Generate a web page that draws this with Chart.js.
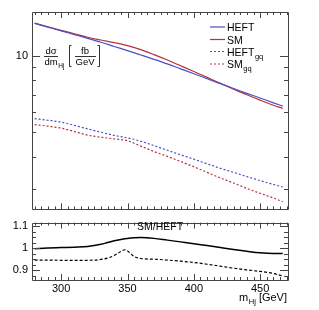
<!DOCTYPE html>
<html>
<head>
<meta charset="utf-8">
<script src="https://cdn.jsdelivr.net/npm/chart.js@4"></script>
<style>
  html, body { margin: 0; padding: 0; background: #fff; }
  #wrap { position: relative; width: 319px; height: 310px; }
  #top { position: absolute; left: 0; top: 0; width: 319px; height: 220px; }
  #bot { position: absolute; left: 0; top: 212px; width: 319px; height: 98px; }
</style>
</head>
<body>
<div id="wrap">
  <div id="top"><canvas id="mainChart"></canvas></div>
  <div id="bot"><canvas id="ratioChart"></canvas></div>
</div>
<script>
// m_Hj [GeV] sample points
const mass = [280, 290, 300, 310, 320, 330, 340, 350, 360, 370, 380, 390, 400, 410, 420, 430, 440, 450, 460, 467];
const heft   = [13.35, 12.91, 12.49, 12.07, 11.67, 11.27, 10.85, 10.45, 10.05, 9.66, 9.27, 8.87, 8.49, 8.11, 7.76, 7.43, 7.11, 6.82, 6.53, 6.34];
const sm     = [13.38, 12.95, 12.55, 12.17, 11.79, 11.50, 11.23, 10.93, 10.55, 10.08, 9.60, 9.12, 8.66, 8.21, 7.79, 7.39, 7.02, 6.69, 6.39, 6.21];
const heftGq = [5.66, 5.58, 5.49, 5.33, 5.16, 5.01, 4.87, 4.76, 4.62, 4.44, 4.26, 4.09, 3.93, 3.77, 3.62, 3.49, 3.36, 3.24, 3.13, 3.06];
const smGq   = [5.37, 5.29, 5.20, 5.04, 4.88, 4.79, 4.72, 4.64, 4.42, 4.21, 4.03, 3.85, 3.67, 3.49, 3.32, 3.17, 3.02, 2.89, 2.77, 2.68];

// ratio panel SM/HEFT
const ratioMass  = [280, 290, 300, 310, 320, 330, 335, 340, 345, 348, 351, 355, 360, 370, 380, 390, 400, 410, 420, 430, 440, 450, 460, 467];
const ratioTotal = [0.998, 1.001, 1.003, 1.005, 1.008, 1.018, 1.026, 1.034, 1.040, 1.043, 1.046, 1.048, 1.049, 1.045, 1.037, 1.029, 1.021, 1.012, 1.003, 0.994, 0.986, 0.979, 0.976, 0.976];
const ratioGq    = [0.946, 0.946, 0.945, 0.945, 0.945, 0.949, 0.955, 0.967, 0.985, 0.993, 0.983, 0.962, 0.953, 0.950, 0.946, 0.941, 0.935, 0.927, 0.918, 0.909, 0.901, 0.894, 0.885, 0.873];

const xTickValues = [300, 350, 400, 450];
const yTickValues = [10];
const ratioTickValues = [0.9, 1, 1.1];
const ratioTickLabels = ['0.9', '1', '1.1'];

const BLUE = '#4a4fc2';
const RED = '#b8303c';
const FONT = '"Liberation Sans", Arial, sans-serif';

const pts = (xs, ys) => xs.map((x, i) => ({ x: x, y: ys[i] }));

function line(label, data, color, dash, width) {
  return {
    label: label,
    data: data,
    borderColor: color,
    borderWidth: width,
    borderDash: dash,
    pointRadius: 0,
    fill: false,
    cubicInterpolationMode: 'monotone'
  };
}

// ROOT style frame with inward ticks
function drawFrame(chart, yMinor, yMajor) {
  const ctx = chart.ctx;
  const a = chart.chartArea;
  const xs = chart.scales.x, ys = chart.scales.y;
  ctx.save();
  ctx.strokeStyle = '#444';
  ctx.lineWidth = 1;
  ctx.beginPath();
  ctx.rect(Math.round(a.left) + 0.5, Math.round(a.top) + 0.5, Math.round(a.right - a.left), Math.round(a.bottom - a.top));
  ctx.stroke();
  ctx.beginPath();
  for (let v = 280; v <= 470; v += 5) {
    const px = Math.round(xs.getPixelForValue(v)) + 0.5;
    const len = v % 50 === 0 ? 6 : 3;
    ctx.moveTo(px, a.top); ctx.lineTo(px, a.top + len);
    ctx.moveTo(px, a.bottom); ctx.lineTo(px, a.bottom - len);
  }
  const yt = (vals, len) => vals.forEach(v => {
    const py = Math.round(ys.getPixelForValue(v)) + 0.5;
    ctx.moveTo(a.left, py); ctx.lineTo(a.left + len, py);
    ctx.moveTo(a.right, py); ctx.lineTo(a.right - len, py);
  });
  yt(yMinor, 4);
  yt(yMajor, 8);
  ctx.stroke();
  ctx.restore();
}

function textSub(ctx, x, y, main, sub, size, subSize) {
  ctx.font = size + 'px ' + FONT;
  ctx.fillText(main, x, y);
  const w = ctx.measureText(main).width;
  ctx.font = subSize + 'px ' + FONT;
  ctx.fillText(sub, x + w + 0.5, y + 3);
  return w + 0.5 + ctx.measureText(sub).width;
}

const mainDecor = {
  id: 'mainDecor',
  afterDraw(chart) {
    drawFrame(chart, [3, 4, 5, 6, 7, 8, 9], [10]);
    const ctx = chart.ctx;
    ctx.save();
    ctx.fillStyle = '#000';
    ctx.textBaseline = 'alphabetic';
    // legend
    const rows = [27, 39.5, 51.5, 64];
    chart.data.datasets.forEach((ds, i) => {
      const y = rows[i];
      ctx.strokeStyle = ds.borderColor;
      ctx.lineWidth = ds.borderWidth;
      ctx.setLineDash(ds.borderDash || []);
      ctx.beginPath();
      ctx.moveTo(210, y); ctx.lineTo(225, y);
      ctx.stroke();
      ctx.setLineDash([]);
      ctx.textAlign = 'left';
      if (ds.label.indexOf('_') > 0) {
        const parts = ds.label.split('_');
        textSub(ctx, 227, y + 4, parts[0], parts[1], 10.5, 7.5);
      } else {
        ctx.font = '10.5px ' + FONT;
        ctx.fillText(ds.label, 227, y + 4);
      }
    });
    // y title: d sigma / dm_Hj [fb / GeV]
    ctx.textAlign = 'center';
    ctx.font = '9.5px ' + FONT;
    ctx.fillText('d\u03c3', 51, 54);
    ctx.textAlign = 'left';
    textSub(ctx, 44.5, 64.5, 'dm', 'Hj', 9.5, 6.5);
    ctx.textAlign = 'center';
    ctx.font = '9.5px ' + FONT;
    ctx.fillText('fb', 85, 53.5);
    ctx.fillText('GeV', 85, 64.5);
    ctx.strokeStyle = '#000';
    ctx.lineWidth = 0.8;
    ctx.beginPath();
    ctx.moveTo(44, 56.5); ctx.lineTo(58, 56.5);
    ctx.moveTo(75, 56.5); ctx.lineTo(96, 56.5);
    // brackets
    ctx.moveTo(71.5, 45.5); ctx.lineTo(69.5, 45.5); ctx.lineTo(69.5, 66.5); ctx.lineTo(71.5, 66.5);
    ctx.moveTo(97.5, 45.5); ctx.lineTo(99.5, 45.5); ctx.lineTo(99.5, 66.5); ctx.lineTo(97.5, 66.5);
    ctx.stroke();
    ctx.restore();
  }
};

const ratioDecor = {
  id: 'ratioDecor',
  afterDraw(chart) {
    const minor = [];
    for (let v = 0.875; v <= 1.11; v += 0.025) minor.push(v);
    drawFrame(chart, minor, ratioTickValues);
    const ctx = chart.ctx;
    ctx.save();
    ctx.fillStyle = '#000';
    ctx.textBaseline = 'alphabetic';
    ctx.textAlign = 'center';
    ctx.font = '10.5px ' + FONT;
    ctx.fillText('SM/HEFT', 160, 18);
    // x title
    ctx.textAlign = 'left';
    ctx.font = '11px ' + FONT;
    const wm = ctx.measureText('m').width;
    const wr = ctx.measureText(' [GeV]').width;
    ctx.font = '7.5px ' + FONT;
    const ws = ctx.measureText('Hj').width;
    const x0 = 287 - (wm + 0.5 + ws + wr);
    const w = textSub(ctx, x0, 89, 'm', 'Hj', 11, 7.5);
    ctx.font = '11px ' + FONT;
    ctx.fillText(' [GeV]', x0 + w, 89);
    ctx.restore();
  }
};

new Chart(document.getElementById('mainChart'), {
  type: 'line',
  data: {
    datasets: [
      line('HEFT', pts(mass, heft), BLUE, [], 1.2),
      line('SM', pts(mass, sm), RED, [], 1.2),
      line('HEFT_gq', pts(mass, heftGq), BLUE, [2, 2], 1.2),
      line('SM_gq', pts(mass, smGq), RED, [2, 2], 1.2)
    ]
  },
  options: {
    responsive: true,
    maintainAspectRatio: false,
    animation: false,
    layout: { padding: { top: 12, right: 31, bottom: 3, left: 0 } },
    plugins: { legend: { display: false }, tooltip: { enabled: false } },
    scales: {
      x: { type: 'linear', min: 278, max: 471, display: false },
      y: {
        type: 'logarithmic',
        min: 2.5,
        max: 14.8,
        afterFit: s => { s.width = 32; },
        afterBuildTicks: s => { s.ticks = yTickValues.map(v => ({ value: v })); },
        grid: { display: false, drawTicks: false },
        border: { display: false },
        ticks: { color: '#000', padding: 4, font: { family: FONT, size: 11 }, callback: v => String(v) }
      }
    }
  },
  plugins: [mainDecor]
});

new Chart(document.getElementById('ratioChart'), {
  type: 'line',
  data: {
    datasets: [
      line('SM/HEFT', pts(ratioMass, ratioTotal), '#000', [], 1.5),
      line('SM/HEFT gq', pts(ratioMass, ratioGq), '#000', [3, 2], 1.2)
    ]
  },
  options: {
    responsive: true,
    maintainAspectRatio: false,
    animation: false,
    layout: { padding: { top: 5, right: 31, bottom: 0, left: 0 } },
    plugins: { legend: { display: false }, tooltip: { enabled: false } },
    scales: {
      x: {
        type: 'linear',
        min: 278,
        max: 471,
        afterFit: s => { s.height = 30; },
        afterBuildTicks: s => { s.ticks = xTickValues.map(v => ({ value: v })); },
        grid: { display: false, drawTicks: false },
        border: { display: false },
        ticks: { color: '#000', padding: 2, maxRotation: 0, font: { family: FONT, size: 11 } }
      },
      y: {
        type: 'linear',
        min: 0.855,
        max: 1.117,
        afterFit: s => { s.width = 32; },
        afterBuildTicks: s => { s.ticks = ratioTickValues.map(v => ({ value: v })); },
        grid: { display: false, drawTicks: false },
        border: { display: false },
        ticks: {
          color: '#000', padding: 4, font: { family: FONT, size: 11 },
          callback: v => ratioTickLabels[ratioTickValues.indexOf(v)]
        }
      }
    }
  },
  plugins: [ratioDecor]
});
</script>
</body>
</html>
